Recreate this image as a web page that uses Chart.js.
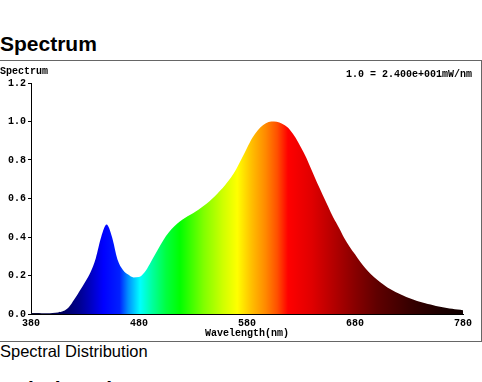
<!DOCTYPE html>
<html>
<head>
<meta charset="utf-8">
<script src="https://cdn.jsdelivr.net/npm/chart.js@4"></script>
<style>
  html, body { margin:0; padding:0; background:#fff; width:482px; height:382px; overflow:hidden; position:relative; }
  .h { position:absolute; left:0; font-family:"Liberation Sans", Arial, sans-serif; font-weight:bold; font-size:21px; color:#000; white-space:nowrap; }
  .box { position:absolute; left:-2px; top:60px; width:482px; height:280px; border:1px solid #666; }
  .mono { position:absolute; font-family:"Liberation Mono", "Courier New", monospace; font-weight:bold; font-size:10px; color:#000; white-space:nowrap; line-height:10px; }
  .sub { position:absolute; left:0; top:342px; font-family:"Liberation Sans", Arial, sans-serif; font-size:16.5px; color:#000; white-space:nowrap; }
  canvas { position:absolute; left:0; top:61px; }
</style>
</head>
<body>
<div class="h" style="top:32px;">Spectrum</div>
<div class="box"></div>
<canvas id="c" width="481" height="280"></canvas>
<div class="mono" style="left:0; top:67px;">Spectrum</div>
<div class="mono" style="right:10px; top:70px;">1.0 = 2.400e+001mW/nm</div>
<div class="sub">Spectral Distribution</div>
<div class="h" style="top:377px;">Colorimetric Parameters</div>
<script>
const WAVELENGTHS = [380,385,390,395,400,405,410,415,420,425,430,435,440,445,450,455,460,465,470,475,480,485,490,495,500,505,510,515,520,525,530,535,540,545,550,555,560,565,570,575,580,585,590,595,600,605,610,615,620,625,630,635,640,645,650,655,660,665,670,675,680,685,690,695,700,705,710,715,720,725,730,735,740,745,750,755,760,765,770,775,780];
const SPECTRUM = [0.005,0.005,0.004,0.004,0.005,0.008,0.015,0.035,0.075,0.12,0.165,0.215,0.29,0.40,0.465,0.40,0.285,0.23,0.205,0.19,0.192,0.215,0.26,0.31,0.36,0.405,0.44,0.468,0.49,0.508,0.524,0.542,0.562,0.585,0.61,0.64,0.672,0.708,0.752,0.806,0.862,0.915,0.955,0.982,0.997,1.0,0.995,0.98,0.955,0.915,0.865,0.81,0.745,0.68,0.62,0.56,0.50,0.45,0.395,0.35,0.31,0.27,0.235,0.205,0.18,0.158,0.138,0.122,0.108,0.095,0.083,0.073,0.064,0.056,0.049,0.042,0.036,0.031,0.027,0.023,0.02];
const X_TICKS = [380,480,580,680,780];
const Y_TICKS = [0.0,0.2,0.4,0.6,0.8,1.0,1.2];

const COLOR_STOPS = [
  [380,'#101030'],[410,'#000060'],[425,'#000090'],[435,'#0000c0'],[447,'#0000ff'],[462,'#0020ff'],
  [470,'#0090ff'],[481,'#00ffff'],[492,'#00ffa0'],[505,'#00ff40'],[518,'#00ff00'],[540,'#80ff00'],
  [558,'#d0ff00'],[571,'#ffff00'],[584,'#ffc000'],[597,'#ff8a00'],[608,'#ff5000'],[618,'#ff0000'],
  [640,'#e00000'],[660,'#b40000'],[680,'#880000'],[700,'#600000'],[730,'#380000'],[760,'#1c0000'],[780,'#100000']
];

const points = WAVELENGTHS.map((w,i)=>({x:w, y:SPECTRUM[i]}));

function spectrumFill(ctx) {
  const chart = ctx.chart;
  const area = chart.chartArea;
  if (!area) return '#00f';
  const xs = chart.scales.x;
  const x0 = xs.getPixelForValue(380), x1 = xs.getPixelForValue(780);
  const g = chart.ctx.createLinearGradient(x0, 0, x1, 0);
  COLOR_STOPS.forEach(([w,c]) => g.addColorStop((w-380)/400, c));
  return g;
}

const monoFont = {family:"'Liberation Mono','Courier New',monospace", size:10, weight:'bold'};

new Chart(document.getElementById('c'), {
  type:'line',
  data:{ datasets:[{ data:points, fill:'origin', backgroundColor:spectrumFill, borderWidth:0, pointRadius:0, cubicInterpolationMode:'monotone' }] },
  options:{
    responsive:false, animation:false, devicePixelRatio:1,
    layout:{ padding:{top:22, right:18, left:0, bottom:0} },
    plugins:{ legend:{display:false}, tooltip:{enabled:false} },
    scales:{
      x:{
        type:'linear', min:380, max:780,
        afterBuildTicks: s => { s.ticks = X_TICKS.map(v=>({value:v})); },
        afterFit: s => { s.height = 27; },
        grid:{ display:true, drawOnChartArea:false, drawTicks:false, color:'#000' },
        border:{ color:'#000', width:1 },
        ticks:{ font:monoFont, color:'#000', padding:3, maxRotation:0, autoSkip:false, callback:v=>String(v) },
        title:{ display:true, text:'Wavelength(nm)', font:monoFont, color:'#000', padding:{top:0,bottom:1.5} }
      },
      y:{
        min:0, max:1.2,
        afterBuildTicks: s => { s.ticks = Y_TICKS.map(v=>({value:v})); },
        afterFit: s => { s.width = 31; },
        grid:{ display:true, drawOnChartArea:false, drawTicks:true, tickLength:3, color:'#000' },
        border:{ color:'#000', width:1 },
        ticks:{ font:monoFont, color:'#000', padding:2, autoSkip:false, callback:v=>Number(v).toFixed(1) }
      }
    }
  }
});
</script>
</body>
</html>
